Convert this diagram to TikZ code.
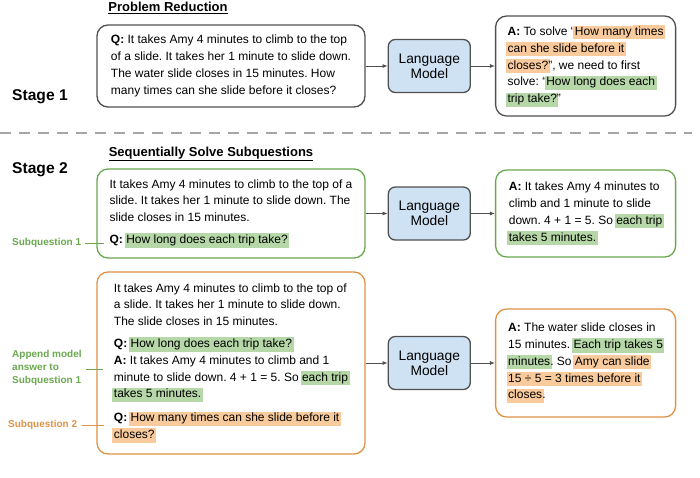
\documentclass[tikz,border=0pt]{standalone}
\usepackage{fontspec}
\setmainfont{Liberation Sans}
\usepackage{xcolor}
\usetikzlibrary{positioning,calc,arrows.meta}
\definecolor{lmblue}{HTML}{CFE2F3}
\definecolor{hlgreen}{HTML}{B6D7A8}
\definecolor{hlorange}{HTML}{F9CB9C}
\definecolor{subgreen}{HTML}{6AA84F}
\definecolor{suborange}{HTML}{DE9245}
\definecolor{edgegray}{HTML}{505050}
\newcommand{\hlg}[1]{{\setlength{\fboxsep}{1.5pt}\kern-\fboxsep\colorbox{hlgreen}{\vphantom{Ag}#1}\kern-\fboxsep}}
\newcommand{\hlo}[1]{{\setlength{\fboxsep}{1.5pt}\kern-\fboxsep\colorbox{hlorange}{\vphantom{Ag}#1}\kern-\fboxsep}}
\frenchspacing

\begin{document}
\begin{tikzpicture}[x=1pt, y=-1pt,
    textbox/.style={draw, rectangle, rounded corners=11pt, line width=1.3pt, align=left, font=\fontsize{12}{16.8}\selectfont},
    lmbox/.style={draw=edgegray, rectangle, rounded corners=7pt, line width=1.3pt, fill=lmblue, minimum width=82pt, minimum height=53pt, align=center, font=\fontsize{13.8}{15}\selectfont},
    sublabel/.style={font=\bfseries\fontsize{10}{12.8}\selectfont, align=left, inner sep=1pt},
    link/.style={->, >={Latex[length=5pt,width=4pt]}, edgegray, line width=0.9pt}]
    \useasboundingbox (0,0) rectangle (700,477);

    \node[font=\bfseries\fontsize{13}{15}\selectfont] (title1) at (168,8) {\underline{Problem Reduction}};
    \node[font=\bfseries\fontsize{13}{15}\selectfont] (title2) at (211,154) {\underline{Sequentially Solve Subquestions}};
    \node[font=\bfseries\fontsize{15.6}{17}\selectfont, anchor=west, inner sep=0pt] (stage1) at (12,97) {Stage 1};
    \node[font=\bfseries\fontsize{15.6}{17}\selectfont, anchor=west, inner sep=0pt] (stage2) at (12,170) {Stage 2};
    \draw[gray!70, line width=1.6pt, dash pattern=on 11pt off 8pt] (0,133) -- (692,133);

    \node[textbox, draw=edgegray, minimum width=268pt, minimum height=82pt] (q1) at (231,66)
        {\textbf{Q:} It takes Amy 4 minutes to climb to the top\\ of a slide. It takes her 1 minute to slide down.\\ The water slide closes in 15 minutes. How\\ many times can she slide before it closes?};
    \node[lmbox, right=22pt of q1] (lm1) {Language\\Model};
    \node[textbox, draw=edgegray, minimum width=180pt, minimum height=100pt, right=24pt of lm1] (a1)
        {\textbf{A:} To solve “\hlo{How many} \hlo{times}\\ \hlo{can she slide before it}\\ \hlo{closes?}”, we need to first\\ solve: “\hlg{How long does each}\\ \hlg{trip take?}”};

    \node[textbox, draw=subgreen, minimum width=268pt, minimum height=89pt] (q2) at (231,213.5)
        {It takes Amy 4 minutes to climb to the top of a\\ slide. It takes her 1 minute to slide down. The\\ slide closes in 15 minutes.\\[5pt] \textbf{Q:} \hlg{How long does each trip take?}};
    \node[lmbox, right=22pt of q2] (lm2) {Language\\Model};
    \node[textbox, draw=subgreen, minimum width=180pt, minimum height=87pt, right=24pt of lm2] (a2)
        {\textbf{A:} It takes Amy 4 minutes to\\ climb and 1 minute to slide\\ down. 4 + 1 = 5. So \hlg{each trip}\\ \hlg{takes 5 minutes.}};

    \node[textbox, draw=suborange, minimum width=268pt, minimum height=182pt] (q3) at (231,363)
        {It takes Amy 4 minutes to climb to the top of\\ a slide. It takes her 1 minute to slide down.\\ The slide closes in 15 minutes.\\[5pt] \textbf{Q:} \hlg{How long does each trip take?}\\ \textbf{A:} It takes Amy 4 minutes to climb and 1\\ minute to slide down. 4 + 1 = 5. So \hlg{each trip}\\ \hlg{takes 5 minutes.}\\[7pt] \textbf{Q:} \hlo{How many times can she slide before it}\\ \hlo{closes?}};
    \node[lmbox, right=22pt of q3] (lm3) {Language\\Model};
    \node[textbox, draw=suborange, minimum width=180pt, minimum height=108pt, right=24pt of lm3] (a3)
        {\textbf{A:} The water slide closes in\\ 15 minutes. \hlg{Each trip takes 5}\\ \hlg{minutes}. So \hlo{Amy can slide}\\ \hlo{15 ÷ 5 = 3 times before it}\\ \hlo{closes}.};

    \draw[link] (q1) -- (lm1);
    \draw[link] (lm1) -- (a1);
    \draw[link] (q2) -- (lm2);
    \draw[link] (lm2) -- (a2);
    \draw[link] (q3) -- (lm3);
    \draw[link] (lm3) -- (a3);

    \node[sublabel, text=subgreen, anchor=west] (sub1) at (11,243) {Subquestion 1};
    \node[sublabel, text=subgreen, anchor=west] (append) at (11,368) {Append model\\answer to\\Subquestion 1};
    \node[sublabel, text=suborange, anchor=west] (sub2) at (7,425) {Subquestion 2};
    \draw[subgreen, line width=0.9pt] ($(sub1.east)+(3,0)$) -- ($(sub1.east -| q2.west)+(8,0)$);
    \draw[subgreen, line width=0.9pt] ($(append.east)+(3,1)$) -- ($(append.east -| q3.west)+(7,1)$);
    \draw[suborange, line width=0.9pt] ($(sub2.east)+(4,0)$) -- ($(sub2.east -| q3.west)+(8,0)$);
\end{tikzpicture}
\end{document}
